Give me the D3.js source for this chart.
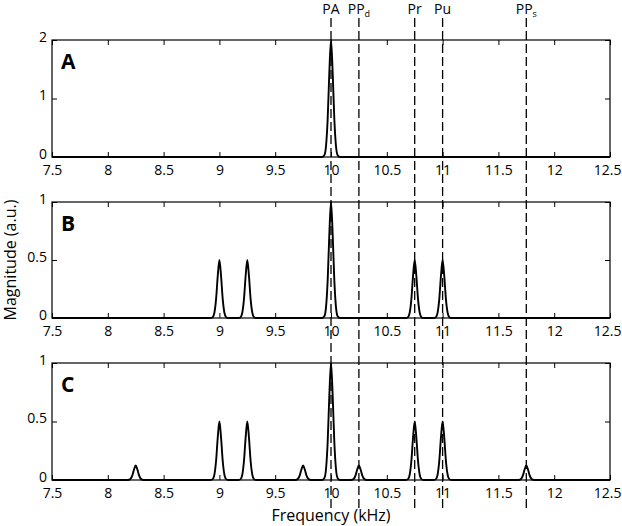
<!DOCTYPE html>
<html>
  <head>
    <meta charset="utf-8" />
    <script src="https://d3js.org/d3.v7.min.js"></script>
    <style>
      body { margin: 0; background: #fff; }
      text { font-family: "Open Sans", "Liberation Sans", sans-serif; fill: #000; }
      .curve { fill: none; stroke: #000; stroke-width: 1.9px; stroke-linejoin: round; }
      .marker { stroke: #000; stroke-width: 1.3px; stroke-dasharray: 9 4; }
    </style>
  </head>
  <body>
    <svg id="chart" width="622" height="526"></svg>
    <script>

      // peak centres (kHz) and heights per panel
      var peaksA = [[10, 2]];
      var peaksB = [[9, 0.5], [9.25, 0.5], [10, 1], [10.75, 0.5], [11, 0.5]];
      var peaksC = [[8.25, 0.125], [9, 0.5], [9.25, 0.5], [9.75, 0.125], [10, 1],
                    [10.25, 0.125], [10.75, 0.5], [11, 0.5], [11.75, 0.125]];

      // shape of a single peak (offset kHz, relative height)
      var peakShape = [[-0.08, 0], [-0.06, 0.015], [-0.045, 0.09], [-0.03, 0.32], [-0.015, 0.72],
                       [0, 1], [0.015, 0.72], [0.03, 0.32], [0.045, 0.09], [0.06, 0.015], [0.08, 0]];

      var xTicks = [7.5, 8, 8.5, 9, 9.5, 10, 10.5, 11, 11.5, 12, 12.5];
      var yTicksA = [0, 1, 2];
      var yTicksBC = [0, 0.5, 1];

      var markerFreqs = [10, 10.25, 10.75, 11, 11.75];
      var markerNames = [["PA", ""], ["PP", "d"], ["Pr", ""], ["Pu", ""], ["PP", "s"]];

      var panels = [
        { letter: "A", peaks: peaksA, ymax: 2, yTicks: yTicksA, top: 40, bottom: 157 },
        { letter: "B", peaks: peaksB, ymax: 1, yTicks: yTicksBC, top: 202, bottom: 318 },
        { letter: "C", peaks: peaksC, ymax: 1, yTicks: yTicksBC, top: 363, bottom: 480 }
      ];

      var svg = d3.select("#chart");
      var x = d3.scaleLinear().domain([7.5, 12.5]).range([52, 610]);
      var tickLen = 5;

      function buildSeries(peaks) {
        var pts = [[7.5, 0]];
        peaks.forEach(function(p) {
          peakShape.forEach(function(s) {
            pts.push([p[0] + s[0], p[1] * s[1]]);
          });
        });
        pts.push([12.5, 0]);
        return pts;
      }

      panels.forEach(function(p) {
        var y = d3.scaleLinear().domain([0, p.ymax]).range([p.bottom, p.top]);
        var g = svg.append("g");

        var line = d3.line()
          .x(function(d) { return x(d[0]); })
          .y(function(d) { return y(d[1]); })
          .curve(d3.curveMonotoneX);

        g.append("path")
          .attr("class", "curve")
          .attr("d", line(buildSeries(p.peaks)));

        // inward ticks, MATLAB style
        g.append("g")
          .attr("transform", "translate(0," + p.bottom + ")")
          .call(d3.axisBottom(x).tickValues(xTicks).tickSize(-tickLen)
            .tickFormat(d3.format("")))
          .call(function(a) {
            a.select(".domain").remove();
            a.selectAll("text").attr("font-size", 14).attr("dy", "0.75em").attr("y", 7)
              .filter(function(d) { return d === 12.5; })
              .attr("text-anchor", "end").attr("dx", 11);
          });
        g.append("g")
          .attr("transform", "translate(0," + p.top + ")")
          .call(d3.axisTop(x).tickValues(xTicks).tickSize(-tickLen).tickFormat(""))
          .call(function(a) { a.select(".domain").remove(); });
        g.append("g")
          .attr("transform", "translate(" + x.range()[0] + ",0)")
          .call(d3.axisLeft(y).tickValues(p.yTicks).tickSize(-tickLen)
            .tickFormat(d3.format("")))
          .call(function(a) {
            a.select(".domain").remove();
            a.selectAll("text").attr("font-size", 14).attr("x", -5).attr("dy", "0.1em");
          });
        g.append("g")
          .attr("transform", "translate(" + x.range()[1] + ",0)")
          .call(d3.axisRight(y).tickValues(p.yTicks).tickSize(-tickLen).tickFormat(""))
          .call(function(a) { a.select(".domain").remove(); });

        g.append("rect")
          .attr("x", x.range()[0]).attr("y", p.top)
          .attr("width", x.range()[1] - x.range()[0]).attr("height", p.bottom - p.top)
          .attr("fill", "none").attr("stroke", "#000").attr("stroke-width", 1.2);

        g.append("text")
          .attr("x", 61).attr("y", p.top + 29)
          .attr("font-size", 21).attr("font-weight", "bold")
          .text(p.letter);
      });

      // dashed marker lines across all panels
      svg.selectAll(".marker")
        .data(markerFreqs)
        .enter().append("line")
        .attr("class", "marker")
        .attr("x1", function(d) { return x(d); })
        .attr("x2", function(d) { return x(d); })
        .attr("y1", 18).attr("y2", 512);

      var labels = svg.selectAll(".mlabel")
        .data(markerFreqs)
        .enter().append("text")
        .attr("class", "mlabel")
        .attr("x", function(d) { return x(d); })
        .attr("y", 14)
        .attr("font-size", 14)
        .attr("text-anchor", "middle");
      labels.append("tspan").text(function(d, i) { return markerNames[i][0]; });
      labels.append("tspan")
        .attr("font-size", 9).attr("dy", 3)
        .text(function(d, i) { return markerNames[i][1]; });

      svg.append("text")
        .attr("x", 331).attr("y", 521)
        .attr("text-anchor", "middle").attr("font-size", 16)
        .text("Frequency (kHz)");

      svg.append("text")
        .attr("transform", "translate(16,260) rotate(-90)")
        .attr("text-anchor", "middle").attr("font-size", 16)
        .text("Magnitude (a.u.)");

    </script>
  </body>
</html>
